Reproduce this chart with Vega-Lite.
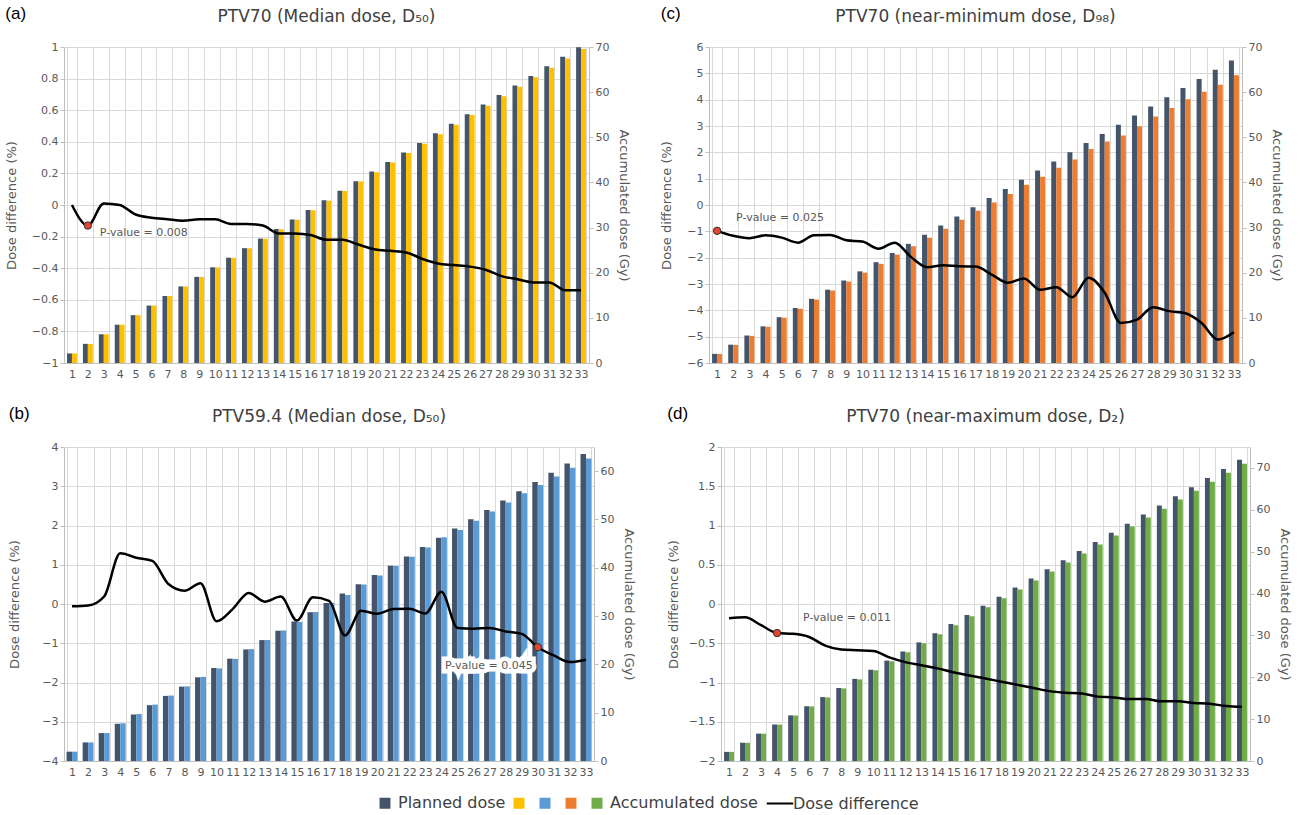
{
  "$schema": "https://vega.github.io/schema/vega-lite/v6.json",
  "padding": {"left": 5, "right": 5, "top": 5, "bottom": 3},
  "datasets": {
    "a": [
      {"n":1,"Planned":2.12,"acc_a":2.12,"diff":0},
      {"n":2,"Planned":4.24,"acc_a":4.23,"diff":-0.13,"pval":"P-value = 0.008"},
      {"n":3,"Planned":6.36,"acc_a":6.36,"diff":0.01},
      {"n":4,"Planned":8.48,"acc_a":8.48,"diff":0.0},
      {"n":5,"Planned":10.6,"acc_a":10.59,"diff":-0.06},
      {"n":6,"Planned":12.72,"acc_a":12.71,"diff":-0.08},
      {"n":7,"Planned":14.84,"acc_a":14.83,"diff":-0.09},
      {"n":8,"Planned":16.96,"acc_a":16.94,"diff":-0.1},
      {"n":9,"Planned":19.08,"acc_a":19.06,"diff":-0.09},
      {"n":10,"Planned":21.2,"acc_a":21.18,"diff":-0.09},
      {"n":11,"Planned":23.32,"acc_a":23.29,"diff":-0.12},
      {"n":12,"Planned":25.44,"acc_a":25.41,"diff":-0.12},
      {"n":13,"Planned":27.56,"acc_a":27.52,"diff":-0.13},
      {"n":14,"Planned":29.68,"acc_a":29.63,"diff":-0.18},
      {"n":15,"Planned":31.8,"acc_a":31.74,"diff":-0.18},
      {"n":16,"Planned":33.92,"acc_a":33.86,"diff":-0.19},
      {"n":17,"Planned":36.04,"acc_a":35.96,"diff":-0.22},
      {"n":18,"Planned":38.16,"acc_a":38.08,"diff":-0.22},
      {"n":19,"Planned":40.28,"acc_a":40.18,"diff":-0.25},
      {"n":20,"Planned":42.4,"acc_a":42.28,"diff":-0.28},
      {"n":21,"Planned":44.52,"acc_a":44.39,"diff":-0.29},
      {"n":22,"Planned":46.64,"acc_a":46.5,"diff":-0.3},
      {"n":23,"Planned":48.76,"acc_a":48.59,"diff":-0.34},
      {"n":24,"Planned":50.88,"acc_a":50.69,"diff":-0.37},
      {"n":25,"Planned":53.0,"acc_a":52.8,"diff":-0.38},
      {"n":26,"Planned":55.12,"acc_a":54.91,"diff":-0.39},
      {"n":27,"Planned":57.24,"acc_a":57.01,"diff":-0.41},
      {"n":28,"Planned":59.36,"acc_a":59.09,"diff":-0.45},
      {"n":29,"Planned":61.48,"acc_a":61.19,"diff":-0.47},
      {"n":30,"Planned":63.6,"acc_a":63.29,"diff":-0.49},
      {"n":31,"Planned":65.72,"acc_a":65.4,"diff":-0.49},
      {"n":32,"Planned":67.84,"acc_a":67.47,"diff":-0.54},
      {"n":33,"Planned":69.96,"acc_a":69.58,"diff":-0.54}
    ],
    "b": [
      {"n":1,"Planned":1.93,"acc_b":1.93,"diff":-0.06},
      {"n":2,"Planned":3.85,"acc_b":3.85,"diff":-0.04},
      {"n":3,"Planned":5.78,"acc_b":5.79,"diff":0.19},
      {"n":4,"Planned":7.7,"acc_b":7.8,"diff":1.29},
      {"n":5,"Planned":9.63,"acc_b":9.74,"diff":1.18},
      {"n":6,"Planned":11.55,"acc_b":11.68,"diff":1.1},
      {"n":7,"Planned":13.48,"acc_b":13.55,"diff":0.51},
      {"n":8,"Planned":15.4,"acc_b":15.45,"diff":0.34},
      {"n":9,"Planned":17.33,"acc_b":17.42,"diff":0.53},
      {"n":10,"Planned":19.25,"acc_b":19.17,"diff":-0.44},
      {"n":11,"Planned":21.18,"acc_b":21.15,"diff":-0.13},
      {"n":12,"Planned":23.1,"acc_b":23.16,"diff":0.28},
      {"n":13,"Planned":25.03,"acc_b":25.05,"diff":0.06},
      {"n":14,"Planned":26.95,"acc_b":27.0,"diff":0.19},
      {"n":15,"Planned":28.88,"acc_b":28.76,"diff":-0.42},
      {"n":16,"Planned":30.8,"acc_b":30.85,"diff":0.17},
      {"n":17,"Planned":32.73,"acc_b":32.76,"diff":0.08},
      {"n":18,"Planned":34.65,"acc_b":34.37,"diff":-0.8},
      {"n":19,"Planned":36.58,"acc_b":36.52,"diff":-0.17},
      {"n":20,"Planned":38.5,"acc_b":38.4,"diff":-0.25},
      {"n":21,"Planned":40.43,"acc_b":40.38,"diff":-0.13},
      {"n":22,"Planned":42.35,"acc_b":42.3,"diff":-0.12},
      {"n":23,"Planned":44.28,"acc_b":44.17,"diff":-0.24},
      {"n":24,"Planned":46.2,"acc_b":46.34,"diff":0.31},
      {"n":25,"Planned":48.13,"acc_b":47.84,"diff":-0.61},
      {"n":26,"Planned":50.05,"acc_b":49.73,"diff":-0.63},
      {"n":27,"Planned":51.98,"acc_b":51.66,"diff":-0.61},
      {"n":28,"Planned":53.9,"acc_b":53.52,"diff":-0.7},
      {"n":29,"Planned":55.83,"acc_b":55.41,"diff":-0.76},
      {"n":30,"Planned":57.75,"acc_b":57.11,"diff":-1.1,"pval":"P-value = 0.045"},
      {"n":31,"Planned":59.68,"acc_b":58.9,"diff":-1.31},
      {"n":32,"Planned":61.6,"acc_b":60.69,"diff":-1.48},
      {"n":33,"Planned":63.53,"acc_b":62.63,"diff":-1.42}
    ],
    "c": [
      {"n":1,"Planned":2.03,"acc_c":2.01,"diff":-0.98,"pval":"P-value = 0.025"},
      {"n":2,"Planned":4.06,"acc_c":4.01,"diff":-1.17},
      {"n":3,"Planned":6.09,"acc_c":6.01,"diff":-1.26},
      {"n":4,"Planned":8.12,"acc_c":8.03,"diff":-1.15},
      {"n":5,"Planned":10.15,"acc_c":10.02,"diff":-1.24},
      {"n":6,"Planned":12.18,"acc_c":12.01,"diff":-1.43},
      {"n":7,"Planned":14.21,"acc_c":14.05,"diff":-1.15},
      {"n":8,"Planned":16.24,"acc_c":16.05,"diff":-1.14},
      {"n":9,"Planned":18.27,"acc_c":18.03,"diff":-1.34},
      {"n":10,"Planned":20.3,"acc_c":20.02,"diff":-1.39},
      {"n":11,"Planned":22.33,"acc_c":21.96,"diff":-1.66},
      {"n":12,"Planned":24.36,"acc_c":24.01,"diff":-1.43},
      {"n":13,"Planned":26.39,"acc_c":25.87,"diff":-1.97},
      {"n":14,"Planned":28.42,"acc_c":27.75,"diff":-2.36},
      {"n":15,"Planned":30.45,"acc_c":29.75,"diff":-2.29},
      {"n":16,"Planned":32.48,"acc_c":31.72,"diff":-2.33},
      {"n":17,"Planned":34.51,"acc_c":33.7,"diff":-2.34},
      {"n":18,"Planned":36.54,"acc_c":35.58,"diff":-2.64},
      {"n":19,"Planned":38.57,"acc_c":37.43,"diff":-2.95},
      {"n":20,"Planned":40.6,"acc_c":39.47,"diff":-2.79},
      {"n":21,"Planned":42.63,"acc_c":41.26,"diff":-3.22},
      {"n":22,"Planned":44.66,"acc_c":43.27,"diff":-3.12},
      {"n":23,"Planned":46.69,"acc_c":45.06,"diff":-3.5},
      {"n":24,"Planned":48.72,"acc_c":47.38,"diff":-2.76},
      {"n":25,"Planned":50.75,"acc_c":49.06,"diff":-3.33},
      {"n":26,"Planned":52.78,"acc_c":50.42,"diff":-4.48},
      {"n":27,"Planned":54.81,"acc_c":52.43,"diff":-4.35},
      {"n":28,"Planned":56.84,"acc_c":54.63,"diff":-3.88},
      {"n":29,"Planned":58.87,"acc_c":56.5,"diff":-4.03},
      {"n":30,"Planned":60.9,"acc_c":58.4,"diff":-4.11},
      {"n":31,"Planned":62.93,"acc_c":60.11,"diff":-4.48},
      {"n":32,"Planned":64.96,"acc_c":61.64,"diff":-5.11},
      {"n":33,"Planned":66.99,"acc_c":63.75,"diff":-4.83}
    ],
    "d": [
      {"n":1,"Planned":2.18,"acc_d":2.18,"diff":-0.18},
      {"n":2,"Planned":4.36,"acc_d":4.35,"diff":-0.17},
      {"n":3,"Planned":6.54,"acc_d":6.52,"diff":-0.27},
      {"n":4,"Planned":8.72,"acc_d":8.69,"diff":-0.37,"pval":"P-value = 0.011"},
      {"n":5,"Planned":10.9,"acc_d":10.86,"diff":-0.38},
      {"n":6,"Planned":13.08,"acc_d":13.03,"diff":-0.42},
      {"n":7,"Planned":15.26,"acc_d":15.18,"diff":-0.53},
      {"n":8,"Planned":17.44,"acc_d":17.34,"diff":-0.58},
      {"n":9,"Planned":19.62,"acc_d":19.5,"diff":-0.59},
      {"n":10,"Planned":21.8,"acc_d":21.67,"diff":-0.6},
      {"n":11,"Planned":23.98,"acc_d":23.82,"diff":-0.68},
      {"n":12,"Planned":26.16,"acc_d":25.97,"diff":-0.74},
      {"n":13,"Planned":28.34,"acc_d":28.12,"diff":-0.78},
      {"n":14,"Planned":30.52,"acc_d":30.27,"diff":-0.82},
      {"n":15,"Planned":32.7,"acc_d":32.42,"diff":-0.87},
      {"n":16,"Planned":34.88,"acc_d":34.56,"diff":-0.91},
      {"n":17,"Planned":37.06,"acc_d":36.71,"diff":-0.95},
      {"n":18,"Planned":39.24,"acc_d":38.85,"diff":-0.99},
      {"n":19,"Planned":41.42,"acc_d":40.99,"diff":-1.03},
      {"n":20,"Planned":43.6,"acc_d":43.13,"diff":-1.07},
      {"n":21,"Planned":45.78,"acc_d":45.27,"diff":-1.11},
      {"n":22,"Planned":47.96,"acc_d":47.42,"diff":-1.13},
      {"n":23,"Planned":50.14,"acc_d":49.57,"diff":-1.14},
      {"n":24,"Planned":52.32,"acc_d":51.7,"diff":-1.18},
      {"n":25,"Planned":54.5,"acc_d":53.85,"diff":-1.19},
      {"n":26,"Planned":56.68,"acc_d":55.99,"diff":-1.21},
      {"n":27,"Planned":58.86,"acc_d":58.15,"diff":-1.21},
      {"n":28,"Planned":61.04,"acc_d":60.28,"diff":-1.24},
      {"n":29,"Planned":63.22,"acc_d":62.44,"diff":-1.24},
      {"n":30,"Planned":65.4,"acc_d":64.58,"diff":-1.26},
      {"n":31,"Planned":67.58,"acc_d":66.72,"diff":-1.27},
      {"n":32,"Planned":69.76,"acc_d":68.85,"diff":-1.3},
      {"n":33,"Planned":71.94,"acc_d":71.0,"diff":-1.31}
    ]
  },
  "vconcat": [
    {
      "hconcat": [
        {
          "title": {"text": "(a)", "anchor": "start", "fontSize": 17, "font": "Liberation Sans", "fontWeight": "normal", "color": "#000", "dy": 30},
          "vconcat": [
            {
              "width": 525, "height": 316,
              "title": {"text": "PTV70 (Median dose, D₅₀)"},
              "data": {"name": "a"},
              "encoding": {"x": {"field": "n", "type": "ordinal", "scale": {"type": "band", "paddingInner": 0.38, "paddingOuter": 0.19}}},
              "layer": [
                {
                  "transform": [{"fold": ["Planned", "acc_a"], "as": ["series", "dose"]}],
                  "mark": {"type": "bar"},
                  "encoding": {
                    "xOffset": {"field": "series", "type": "nominal", "scale": {"paddingInner": 0, "paddingOuter": 0}},
                    "y": {"field": "dose", "type": "quantitative", "scale": {"domain": [0, 70], "nice": false}, "axis": {"orient": "right", "title": "Accumulated dose (Gy)", "values": [0,10,20,30,40,50,60,70], "grid": false}},
                    "color": {"field": "series", "type": "nominal", "scale": {"domain": ["Planned","acc_a","acc_b","acc_c","acc_d","Dose difference"], "range": ["#44546A","#FFC000","#5B9BD5","#ED7D31","#70AD47","#000000"]},
                      "legend": {"orient": "bottom", "direction": "horizontal", "title": null, "labelExpr": "datum.value == 'Planned' ? 'Planned dose\u00a0\u00a0\u00a0\u00a0\u00a0\u00a0\u00a0' : datum.value == 'acc_d' ? 'Accumulated dose' : datum.value == 'Dose difference' ? 'Dose difference' : ''", "labelFontSize": 16, "labelColor": "#404040", "symbolType": "square", "symbolSize": 80, "columnPadding": 4, "labelOffset": 5,
                        "encode": {"symbols": {"update": {"shape": {"signal": "datum.value === 'Dose difference' ? 'stroke' : 'square'"}, "stroke": {"signal": "datum.value === 'Dose difference' ? '#000' : 'transparent'"}, "strokeWidth": {"value": 2}, "size": {"signal": "datum.value === 'Dose difference' ? 700 : 80"}}}}}}
                  }
                },
                {
                  "encoding": {"y": {"field": "diff", "type": "quantitative", "scale": {"domain": [-1, 1], "nice": false}, "axis": {"orient": "left", "title": "Dose difference (%)", "values": [-1,-0.8,-0.6,-0.4,-0.2,0,0.2,0.4,0.6,0.8,1], "format": "~g", "grid": true, "titlePadding": 13}}},
                  "layer": [
                    {"mark": {"type": "line", "interpolate": "monotone", "strokeWidth": 2.5}, "encoding": {"color": {"datum": "Dose difference"}}},
                    {"transform": [{"filter": "datum.pval"}], "mark": {"type": "point", "filled": true, "fill": "#E8452C", "stroke": "#333", "strokeWidth": 1, "size": 55, "opacity": 1}},
                    {"transform": [{"filter": "datum.pval"}], "mark": {"type": "text", "align": "left", "dx": 12, "dy": 7, "fontSize": 11, "color": "#595959"}, "encoding": {"text": {"field": "pval"}}}
                  ]
                }
              ],
              "resolve": {"scale": {"y": "independent"}}
            }
          ]
        },
        {
          "title": {"text": "(c)", "anchor": "start", "fontSize": 17, "font": "Liberation Sans", "fontWeight": "normal", "color": "#000", "dy": 30},
          "vconcat": [
            {
              "width": 533, "height": 316,
              "title": {"text": "PTV70 (near-minimum dose, D₉₈)"},
              "data": {"name": "c"},
              "encoding": {"x": {"field": "n", "type": "ordinal", "scale": {"type": "band", "paddingInner": 0.38, "paddingOuter": 0.19}}},
              "layer": [
                {
                  "transform": [{"fold": ["Planned", "acc_c"], "as": ["series", "dose"]}],
                  "mark": {"type": "bar"},
                  "encoding": {
                    "xOffset": {"field": "series", "type": "nominal", "scale": {"paddingInner": 0, "paddingOuter": 0}},
                    "y": {"field": "dose", "type": "quantitative", "scale": {"domain": [0, 70], "nice": false}, "axis": {"orient": "right", "title": "Accumulated dose (Gy)", "values": [0,10,20,30,40,50,60,70], "grid": false}},
                    "color": {"field": "series", "type": "nominal"}
                  }
                },
                {
                  "encoding": {"y": {"field": "diff", "type": "quantitative", "scale": {"domain": [-6, 6], "nice": false}, "axis": {"orient": "left", "title": "Dose difference (%)", "values": [-6,-5,-4,-3,-2,-1,0,1,2,3,4,5,6], "format": "~g", "grid": true, "titlePadding": 13}}},
                  "layer": [
                    {"mark": {"type": "line", "interpolate": "monotone", "strokeWidth": 2.5}, "encoding": {"color": {"datum": "Dose difference"}}},
                    {"transform": [{"filter": "datum.pval"}], "mark": {"type": "point", "filled": true, "fill": "#E8452C", "stroke": "#333", "strokeWidth": 1, "size": 55, "opacity": 1}},
                    {"transform": [{"filter": "datum.pval"}], "mark": {"type": "text", "align": "left", "dx": 19, "dy": -13, "fontSize": 11, "color": "#595959"}, "encoding": {"text": {"field": "pval"}}}
                  ]
                }
              ],
              "resolve": {"scale": {"y": "independent"}}
            }
          ]
        }
      ],
      "spacing": 30,
      "resolve": {"scale": {"xOffset": "independent"}}
    },
    {
      "hconcat": [
        {
          "title": {"text": "(b)", "anchor": "start", "fontSize": 17, "font": "Liberation Sans", "fontWeight": "normal", "color": "#000", "dy": 30},
          "vconcat": [
            {
              "width": 530, "height": 314,
              "title": {"text": "PTV59.4 (Median dose, D₅₀)"},
              "data": {"name": "b"},
              "encoding": {"x": {"field": "n", "type": "ordinal", "scale": {"type": "band", "paddingInner": 0.32, "paddingOuter": 0.16}}},
              "layer": [
                {
                  "transform": [{"fold": ["Planned", "acc_b"], "as": ["series", "dose"]}],
                  "mark": {"type": "bar"},
                  "encoding": {
                    "xOffset": {"field": "series", "type": "nominal", "scale": {"paddingInner": 0, "paddingOuter": 0}},
                    "y": {"field": "dose", "type": "quantitative", "scale": {"domain": [0, 65], "nice": false}, "axis": {"orient": "right", "title": "Accumulated dose (Gy)", "values": [0,10,20,30,40,50,60], "grid": false}},
                    "color": {"field": "series", "type": "nominal"}
                  }
                },
                {
                  "encoding": {"y": {"field": "diff", "type": "quantitative", "scale": {"domain": [-4, 4], "nice": false}, "axis": {"orient": "left", "title": "Dose difference (%)", "values": [-4,-3,-2,-1,0,1,2,3,4], "format": "~g", "grid": true, "titlePadding": 20}}},
                  "layer": [
                    {"mark": {"type": "line", "interpolate": "monotone", "strokeWidth": 2.5}, "encoding": {"color": {"datum": "Dose difference"}}},
                    {"transform": [{"filter": "datum.pval"}], "mark": {"type": "point", "filled": true, "fill": "#E8452C", "stroke": "#333", "strokeWidth": 1, "size": 55, "opacity": 1}},
                    {"transform": [{"filter": "datum.pval"}], "mark": {"type": "text", "align": "right", "dx": -5, "dy": 19, "fontSize": 11, "color": "#FFFFFF", "stroke": "#FFFFFF", "strokeWidth": 9, "strokeJoin": "miter"}, "encoding": {"text": {"field": "pval"}}},
                    {"transform": [{"filter": "datum.pval"}], "mark": {"type": "text", "align": "right", "dx": -5, "dy": 19, "fontSize": 11, "color": "#595959"}, "encoding": {"text": {"field": "pval"}}}
                  ]
                }
              ],
              "resolve": {"scale": {"y": "independent"}}
            }
          ]
        },
        {
          "title": {"text": "(d)", "anchor": "start", "fontSize": 17, "font": "Liberation Sans", "fontWeight": "normal", "color": "#000", "dy": 30},
          "vconcat": [
            {
              "width": 529, "height": 314,
              "title": {"text": "PTV70 (near-maximum dose, D₂)"},
              "data": {"name": "d"},
              "encoding": {"x": {"field": "n", "type": "ordinal", "scale": {"type": "band", "paddingInner": 0.38, "paddingOuter": 0.19}}},
              "layer": [
                {
                  "transform": [{"fold": ["Planned", "acc_d"], "as": ["series", "dose"]}],
                  "mark": {"type": "bar"},
                  "encoding": {
                    "xOffset": {"field": "series", "type": "nominal", "scale": {"paddingInner": 0, "paddingOuter": 0}},
                    "y": {"field": "dose", "type": "quantitative", "scale": {"domain": [0, 75], "nice": false}, "axis": {"orient": "right", "title": "Accumulated dose (Gy)", "values": [0,10,20,30,40,50,60,70], "grid": false}},
                    "color": {"field": "series", "type": "nominal"}
                  }
                },
                {
                  "encoding": {"y": {"field": "diff", "type": "quantitative", "scale": {"domain": [-2, 2], "nice": false}, "axis": {"orient": "left", "title": "Dose difference (%)", "values": [-2,-1.5,-1,-0.5,0,0.5,1,1.5,2], "format": "~g", "grid": true}}},
                  "layer": [
                    {"mark": {"type": "line", "interpolate": "monotone", "strokeWidth": 2.5}, "encoding": {"color": {"datum": "Dose difference"}}},
                    {"transform": [{"filter": "datum.pval"}], "mark": {"type": "point", "filled": true, "fill": "#E8452C", "stroke": "#333", "strokeWidth": 1, "size": 55, "opacity": 1}},
                    {"transform": [{"filter": "datum.pval"}], "mark": {"type": "text", "align": "left", "dx": 26, "dy": -15, "fontSize": 11, "color": "#595959"}, "encoding": {"text": {"field": "pval"}}}
                  ]
                }
              ],
              "resolve": {"scale": {"y": "independent"}}
            }
          ]
        }
      ],
      "spacing": 32,
      "resolve": {"scale": {"xOffset": "independent"}}
    }
  ],
  "spacing": 26,
  "resolve": {"scale": {"xOffset": "independent"}},
  "config": {
    "font": "DejaVu Sans",
    "view": {"stroke": null},
    "title": {"fontSize": 17, "fontWeight": "normal", "color": "#404040", "anchor": "middle", "offset": 15},
    "axis": {"labelFontSize": 11, "labelColor": "#595959", "labelOverlap": false, "titleFontSize": 13, "titleFontWeight": "normal", "titleColor": "#595959", "domainColor": "#BFBFBF", "tickColor": "#BFBFBF", "gridColor": "#D9D9D9", "tickSize": 4, "titlePadding": 8},
    "axisX": {"labelAngle": 0, "title": null, "ticks": false, "tickBand": "extent", "grid": true, "labelPadding": 5},
    "legend": {"layout": {"bottom": {"anchor": "middle"}}}
  }
}
